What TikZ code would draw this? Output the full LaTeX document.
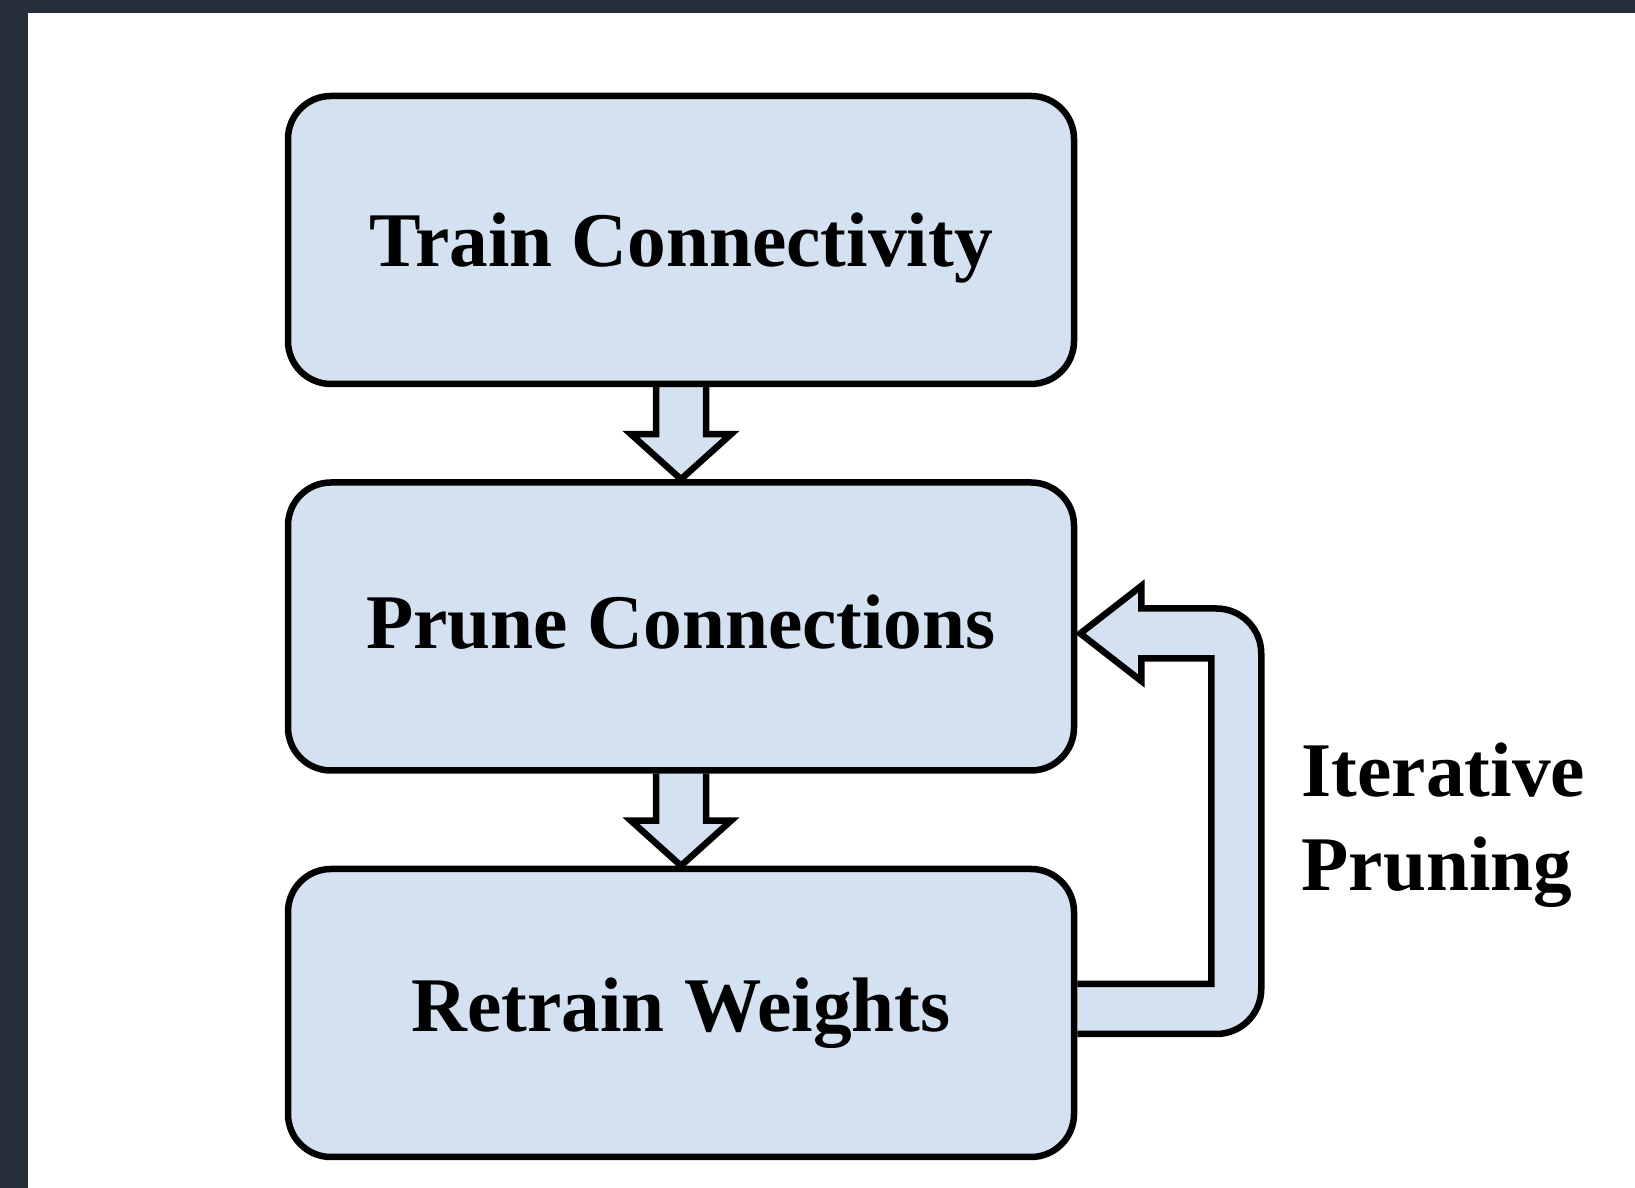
\documentclass[tikz,border=0pt]{standalone}
\usepackage{xcolor}
\usepackage{fontspec}
\setmainfont{Liberation Serif}
\usepackage{tikz}
\usetikzlibrary{arrows.meta, positioning, backgrounds}

\definecolor{boxblue}{RGB}{211,225,240}
\definecolor{framedark}{RGB}{38,47,58}

\begin{document}
\begin{tikzpicture}[
    box/.style={draw, rectangle, rounded corners=0.86cm, line width=0.13cm, fill=boxblue,
                minimum width=15.72cm, minimum height=5.76cm, align=center,
                text height=1.05cm, text depth=0pt,
                font=\fontsize{44}{54}\selectfont\bfseries},
    blockarrow/.style={draw, line width=0.13cm, fill=boxblue},
    looplabel/.style={align=left, inner sep=0pt, font=\fontsize{44}{54}\selectfont\bfseries}
]
    \useasboundingbox (0,0) rectangle (32.7,23.76);

    % Train Connectivity
    \node[box] (train) at (13.62,18.96) {Train Connectivity};

    % Prune Connections
    \node[box, text depth=0.16cm, below=1.84cm of train] (prune) {Prune Connections};

    % Retrain Weights
    \node[box, text depth=0.3cm, below=1.84cm of prune] (retrain) {Retrain Weights};

    % label of the loop
    \node[looplabel, right=4.48cm of prune.south east, yshift=-1.03cm] (iterlabel) {Iterative\\Pruning};

    \coordinate (tip) at ([xshift=0.06cm, yshift=-0.14cm]prune.east);
    \coordinate (back) at ([yshift=0.08cm]retrain.east);

    \begin{scope}[on background layer]
        % page frame
        \fill[framedark] (0,0) rectangle (32.7,23.76);
        \fill[white] (0.56,0) rectangle (32.7,23.5);

        % block arrows down
        \draw[blockarrow] ([xshift=-0.5cm]train.south) -- ++(0,-0.94) -- ++(-0.5,0)
            -- (prune.north) -- ++(1,0.9) -- ++(-0.5,0) -- ([xshift=0.5cm]train.south);
        \draw[blockarrow] ([xshift=-0.5cm]prune.south) -- ++(0,-0.94) -- ++(-0.5,0)
            -- (retrain.north) -- ++(1,0.9) -- ++(-0.5,0) -- ([xshift=0.5cm]prune.south);

        % loop back from retrain to prune
        \draw[blockarrow] ([yshift=0.5cm]back) -| ([xshift=2.62cm, yshift=-0.5cm]tip)
            -- ([xshift=1.22cm, yshift=-0.5cm]tip) -- ++(0,-0.45) -- (tip)
            -- ([xshift=1.22cm, yshift=0.95cm]tip) -- ++(0,-0.45)
            -- ([xshift=2.72cm, yshift=0.5cm]tip)
            arc[start angle=90, end angle=0, radius=0.9cm]
            -- ([xshift=3.68cm, yshift=0.4cm]back)
            arc[start angle=0, end angle=-90, radius=0.9cm]
            -- ([yshift=-0.5cm]back);
    \end{scope}

\end{tikzpicture}
\end{document}
